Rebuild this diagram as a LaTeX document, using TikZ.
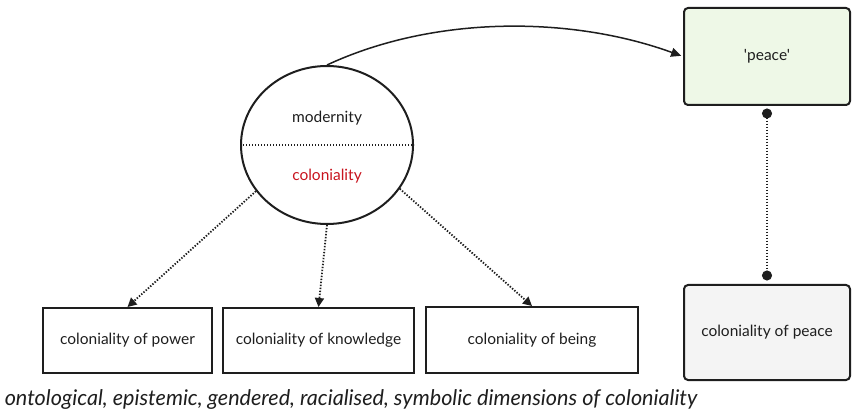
\documentclass[tikz,border=0pt]{standalone}
\usepackage{fontspec}
\setmainfont{Lato}[Ligatures=TeXOff]
\usetikzlibrary{arrows.meta,shapes.geometric}
\definecolor{peacegreen}{HTML}{EEF8E7}
\definecolor{lightgrey}{HTML}{F4F4F4}
\definecolor{colred}{HTML}{C8141E}
\definecolor{ink}{HTML}{1E1E1E}
\begin{document}
\begin{tikzpicture}[x=1pt,y=1pt,
		box/.style={rectangle, draw=ink, line width=2pt, font=\fontsize{15.5}{18}\selectfont, text=ink},
		roundbox/.style={box, rounded corners=4pt},
		dots/.style={ink, line width=1.8pt, dash pattern=on 1.4pt off 1.6pt},
		dotarrow/.style={dots, -{Triangle[length=9pt,width=9pt]}}]
	\useasboundingbox (0,0) rectangle (853,412);

	\draw node[ellipse, draw=ink, line width=2pt, minimum width=172pt, minimum height=158pt] (modcol) at (327,267) {};
	\draw node[font=\fontsize{15.5}{18}\selectfont, text=ink] (modern) at (327,294) {modernity};
	\draw node[font=\fontsize{15.5}{18}\selectfont, text=colred] (colon) at (327,236) {coloniality};

	\draw node[box, minimum width=169pt, minimum height=65pt] (power) at (127.5,71.5) {coloniality of power};
	\draw node[box, minimum width=191pt, minimum height=65pt] (know) at (318.5,71.5) {coloniality of knowledge};
	\draw node[box, minimum width=212pt, minimum height=66pt] (being) at (532,72) {coloniality of being};

	\draw node[roundbox, fill=peacegreen, minimum width=166pt, minimum height=97pt] (peace) at (767,355.5) {'peace'};
	\draw node[roundbox, fill=lightgrey, minimum width=166pt, minimum height=95pt] (colpeace) at (767,79.5) {coloniality of peace};

	\draw node[font=\fontsize{21.6}{24}\selectfont\itshape, text=ink] (dims) at (351,12) {ontological, epistemic, gendered, racialised, symbolic dimensions of coloniality};

	\draw[dots] (modcol.west) -- (modcol.east);

	\draw[dotarrow] (modcol.213) -- (power.north);
	\draw[dotarrow] (modcol.south) -- (know.north);
	\draw[dotarrow] (modcol.329) -- (being.north);

	\draw[ink, line width=1.5pt, -{Triangle[length=10pt,width=9pt]}, shorten >=2pt] (modcol.north) to[out=25, in=160, looseness=0.85] (peace.west);
	\draw[dots, {Circle[length=10pt]}-{Circle[length=10pt]}, shorten <=2.5pt, shorten >=3.5pt] (peace.south) -- (colpeace.north);
\end{tikzpicture}
\end{document}
